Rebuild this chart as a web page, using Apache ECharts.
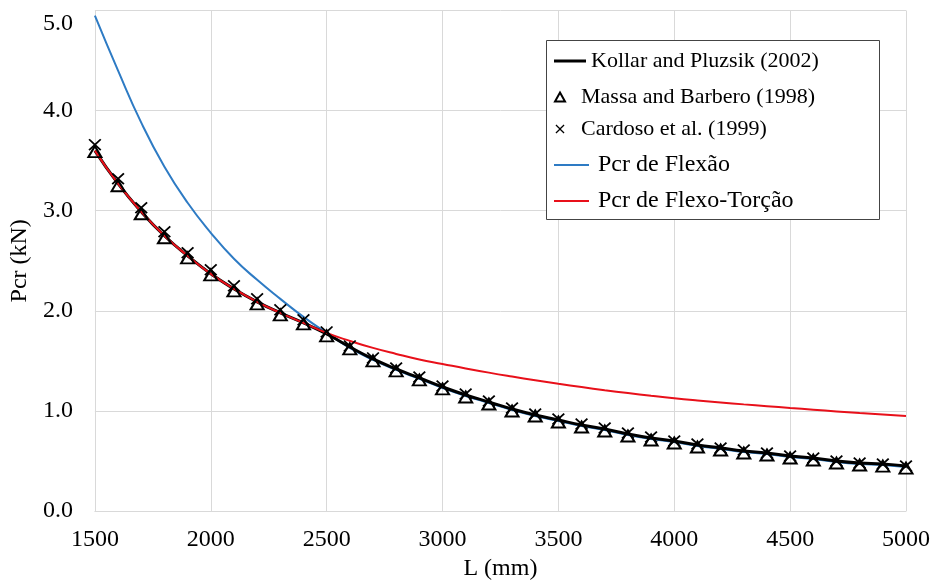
<!DOCTYPE html>
<html>
<head>
<meta charset="utf-8">
<script src="https://cdn.jsdelivr.net/npm/echarts@6/dist/echarts.min.js"></script>
<style>
  html, body { margin: 0; padding: 0; background: #fff; }
  #chart { width: 934px; height: 586px; }
</style>
</head>
<body>
<div id="chart"></div>
<script>
// Data
var L_mm = [1500,1600,1700,1800,1900,2000,2100,2200,2300,2400,2500,2600,2700,2800,2900,3000,3100,3200,3300,3400,3500,3600,3700,3800,3900,4000,4100,4200,4300,4400,4500,4600,4700,4800,4900,5000];

var kollar = [3.60,3.27,2.99,2.75,2.55,2.37,2.22,2.09,1.98,1.88,1.77,1.64,1.52,1.42,1.33,1.24,1.16,1.09,1.02,0.96,0.91,0.86,0.82,0.77,0.73,0.70,0.66,0.63,0.60,0.58,0.55,0.53,0.50,0.48,0.47,0.45];

var massa = [3.59,3.25,2.97,2.73,2.53,2.36,2.20,2.07,1.96,1.87,1.75,1.62,1.50,1.40,1.31,1.22,1.14,1.07,1.00,0.95,0.89,0.84,0.80,0.75,0.71,0.68,0.64,0.61,0.58,0.56,0.53,0.51,0.48,0.46,0.45,0.43];

var cardoso = [3.66,3.32,3.03,2.79,2.58,2.41,2.25,2.12,2.01,1.91,1.79,1.65,1.53,1.43,1.34,1.25,1.17,1.10,1.03,0.97,0.92,0.87,0.83,0.78,0.74,0.70,0.67,0.63,0.61,0.58,0.55,0.53,0.50,0.48,0.47,0.45];

var flexao = [4.95,4.40,3.88,3.44,3.08,2.78,2.52,2.31,2.12,1.94,1.78,1.63,1.51,1.41,1.32,1.23,1.15,1.08,1.01,0.95,0.90,0.85,0.81,0.76,0.72,0.69,0.65,0.62,0.59,0.57,0.54,0.52,0.49,0.47,0.46,0.44];

var flexoTorcao = [3.60,3.27,2.99,2.75,2.55,2.37,2.22,2.09,1.98,1.88,1.78,1.70,1.63,1.57,1.515,1.47,1.425,1.383,1.344,1.307,1.272,1.239,1.208,1.179,1.152,1.127,1.105,1.085,1.066,1.048,1.030,1.013,0.996,0.980,0.965,0.950];

var names = ['Kollar and Pluzsik (2002)', 'Massa and Barbero (1998)', 'Cardoso et al. (1999)', 'Pcr de Flexão', 'Pcr de Flexo-Torção'];

function pairs(xs, ys) { return xs.map(function (x, i) { return [x, ys[i]]; }); }

var FONT = '"Liberation Serif", "Times New Roman", serif';
var X_PATH = 'path://M0,1L1,0L5,4L9,0L10,1L6,5L10,9L9,10L5,6L1,10L0,9L4,5Z';
var TRI_PATH = 'path://M5,0L10,9L0,9Z';

var chart = echarts.init(document.getElementById('chart'), null, { renderer: 'canvas' });
chart.setOption({
  backgroundColor: '#ffffff',
  animation: false,
  grid: { left: 92, right: 28, top: 10.5, bottom: 64.3, containLabel: false },
  xAxis: {
    type: 'value', min: 1500, max: 5000, interval: 500,
    name: 'L (mm)', nameLocation: 'middle', nameGap: 39,
    nameTextStyle: { fontFamily: FONT, fontSize: 24, color: '#000' },
    axisLine: { show: true, lineStyle: { color: '#d9d9d9', width: 1 } },
    axisTick: { show: false },
    axisLabel: { fontFamily: FONT, fontSize: 24, color: '#000', margin: 17,
      formatter: function (v) { return String(v); } },
    splitLine: { show: true, lineStyle: { color: '#d9d9d9', width: 1 } }
  },
  yAxis: {
    type: 'value', min: 0, max: 5, interval: 1,
    name: 'Pcr (kN)', nameLocation: 'middle', nameGap: 57,
    nameTextStyle: { fontFamily: FONT, fontSize: 24, color: '#000' },
    axisLine: { show: true, lineStyle: { color: '#d9d9d9', width: 1 } },
    axisTick: { show: false },
    axisLabel: { fontFamily: FONT, fontSize: 24, color: '#000', margin: 22,
      formatter: function (v) { return v === 5 ? '{t|' + v.toFixed(1) + '}' : v.toFixed(1); },
      rich: { t: { fontFamily: FONT, fontSize: 24, color: '#000', padding: [26, 0, 0, 0] } } },
    splitLine: { show: true, lineStyle: { color: '#d9d9d9', width: 1 } }
  },
  graphic: [{
    type: 'rect', left: 546, top: 40, z: 1,
    shape: { width: 333, height: 179 },
    style: { fill: '#fff', stroke: '#444', lineWidth: 1 }
  }],
  legend: [
    {
      orient: 'vertical', left: 554, top: 50, padding: 0, z: 10,
      itemWidth: 32, itemHeight: 3, icon: 'rect',
      textStyle: { fontFamily: FONT, fontSize: 22, color: '#000' },
      data: [names[0]]
    },
    {
      orient: 'vertical', left: 554, top: 86, padding: 0, itemGap: 10, z: 10,
      itemWidth: 32, itemHeight: 9, symbolKeepAspect: true,
      textStyle: { fontFamily: FONT, fontSize: 22, color: '#000' },
      data: [
        { name: names[1], icon: TRI_PATH, itemStyle: { color: 'transparent', borderColor: '#000', borderWidth: 2 } },
        { name: names[2], icon: X_PATH, itemStyle: { color: '#000' } }
      ]
    },
    {
      orient: 'vertical', left: 554, top: 153, padding: 0, itemGap: 12, z: 10,
      itemWidth: 35, itemHeight: 2, icon: 'rect',
      textStyle: { fontFamily: FONT, fontSize: 24, color: '#000', padding: [0, 0, 0, 4] },
      data: [names[3], names[4]]
    }
  ],
  series: [
    { name: names[3], type: 'line', data: pairs(L_mm, flexao), smooth: true, symbol: 'none',
      lineStyle: { color: '#2E7BC4', width: 2 }, itemStyle: { color: '#2E7BC4' }, z: 2 },
    { name: names[0], type: 'line', data: pairs(L_mm, kollar), smooth: true, symbol: 'none',
      lineStyle: { color: '#000', width: 3 }, itemStyle: { color: '#000' }, z: 3 },
    { name: names[4], type: 'line', data: pairs(L_mm, flexoTorcao), smooth: true, symbol: 'none',
      lineStyle: { color: '#E8101A', width: 2 }, itemStyle: { color: '#E8101A' }, z: 4 },
    { name: names[1], type: 'scatter', data: pairs(L_mm, massa), symbol: 'triangle', symbolSize: [13, 11],
      itemStyle: { color: 'transparent', borderColor: '#000', borderWidth: 2, opacity: 1 }, z: 5 },
    { name: names[2], type: 'scatter', data: pairs(L_mm, cardoso), symbol: X_PATH, symbolSize: [13, 12],
      itemStyle: { color: '#000', opacity: 1 }, z: 6 }
  ]
});
</script>
</body>
</html>
